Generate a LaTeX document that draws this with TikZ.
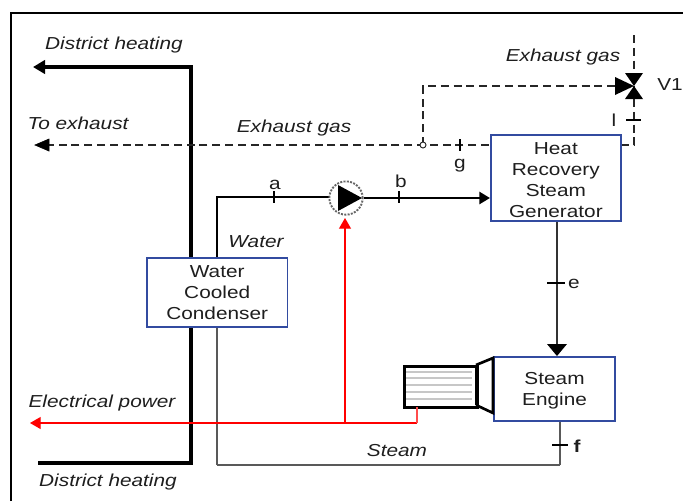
\documentclass[tikz,border=0pt]{standalone}
\usepackage{fontspec}
\setmainfont[FakeStretch=1.2]{Liberation Sans}
\usetikzlibrary{arrows.meta}
\definecolor{boxblue}{RGB}{50,75,160}
\definecolor{txt}{RGB}{30,30,30}
\tikzset{
 x=0.75pt,y=-0.75pt,
 lab/.style={font=\fontsize{13pt}{15pt}\selectfont,text=txt,inner sep=0pt},
 ilab/.style={lab,font=\itshape\fontsize{13pt}{15pt}\selectfont},
 unitbox/.style={draw=boxblue,line width=1.3pt,fill=white,align=center,inner sep=0pt,font=\fontsize{13pt}{15.8pt}\selectfont,text=txt},
 heat/.style={line width=2.6pt,black},
 water/.style={line width=2pt,black},
 steam/.style={line width=1.5pt,black!65},
 gas/.style={line width=1.4pt,black!85,dash pattern=on 6pt off 3.6pt},
 elec/.style={line width=0.8pt,red},
 tickm/.style={line width=0.9pt,black},
}
\begin{document}
\begin{tikzpicture}
\useasboundingbox (0,0) rectangle (683,501);
\fill[white] (0,0) rectangle (683,501);
% frame
\coordinate (fbl) at (11,501);
\coordinate (ftl) at (11,13);
\coordinate (ftr) at (683,13);
\draw[line width=1.3pt,black] (fbl) -- (ftl) -- (ftr);
% coordinates
\coordinate (dhtop) at (33,67);
\coordinate (dhtc) at (191,67);
\coordinate (dhbc) at (191,463);
\coordinate (dhbot) at (38,463);
\coordinate (toex) at (35,145);
\coordinate (j) at (423,145);
\coordinate (jt) at (423,86);
\coordinate (vin) at (616,86);
\coordinate (vc) at (634,86);
\coordinate (vtop) at (634,35);
\coordinate (rcorn) at (634,145);
\coordinate (wc) at (217,197);
\coordinate (wb) at (217,465);
\coordinate (fc) at (560,465);
\coordinate (elecl) at (30,423);
\coordinate (elecj) at (345,423);
\coordinate (elect) at (345,218);
\coordinate (elecr) at (417,423);
% lines under boxes
\draw[heat,-{Triangle[length=9pt,width=10pt]}] (dhbot) -- (dhbc) -- (dhtc) -- (dhtop);
\draw[gas] (489,145) -- (48,145);
\draw[black,line width=0.5pt,fill=black] (toex) -- (49,139) -- (49,151) -- cycle;
\draw[gas] (j) -- (jt) -- (vin);
\draw[gas] (vtop) -- (vc) -- (rcorn) -- (620,145);
\draw[steam] (wb) -- (wc);
\draw[water] (217,258) -- (wc) -- (330,197);
\draw[steam] (fc) -- (wb);
\draw[elec,-{Triangle[length=8pt,width=9pt]}] (elecr) -- (elecl);
\draw[elec,-{Triangle[length=8pt,width=9pt]}] (elecj) -- (elect);
% junction
\node[circle,draw=black!85,line width=0.7pt,fill=white,minimum size=4.5pt,inner sep=0pt] (jn) at (j) {};
% nodes
\node[unitbox,anchor=north west,minimum width=105.5pt,minimum height=52pt] (cond) at (146,257) {Water\\Cooled\\Condenser};
\node[unitbox,anchor=north west,minimum width=97.5pt,minimum height=64.5pt] (hrsg) at (490,134) {\rule{0pt}{12pt}Heat\\Recovery\\Steam\\Generator};
\node[unitbox,anchor=north west,minimum width=91pt,minimum height=48pt] (eng) at (493,356) {\rule{0pt}{12pt}Steam\\Engine};
% pump
\node[circle,draw=black!60,dash pattern=on 1.5pt off 1pt,line width=1.4pt,minimum size=25pt,inner sep=0pt,fill=white] (pump) at (346,198) {};
\fill[black] (338,185) -- (362,198) -- (338,211) -- cycle;
\draw[water,-{Triangle[length=8pt,width=9pt]}] (pump.east) -- (hrsg.west |- pump.east);
% connectors
\draw[line width=1.6pt,black!80] (hrsg.south -| 557,0) -- (557,345);
\fill[black] (547,344) -- (567,344) -- (557,356) -- cycle;
\draw[steam] (eng.south -| 560,0) -- (fc);
% generator
\node[draw=black,line width=2pt,fill=white,minimum width=55pt,minimum height=31pt,inner sep=0pt,anchor=north west] (gen) at (403,365) {};
\foreach \yy in {372,378,385,392,399}{\draw[black!22,line width=1.3pt] (406,\yy) -- (472,\yy);}
\draw[line width=2pt,black] (476,365) -- (493,358) -- (493,413) -- (476,405);
\draw[line width=2pt,black] (476,365) -- (476,405);
\draw[elec,line width=1.2pt,red!70] (417,407) -- (elecr);
% valve
\fill[black] (625,73) -- (643,73) -- (634,86) -- cycle;
\fill[black] (625,99) -- (643,99) -- (634,86) -- cycle;
\fill[black] (615,77) -- (634,86) -- (615,95) -- cycle;
% ticks
\draw[tickm] (274,191) -- (274,203);
\draw[tickm] (399,191) -- (399,203);
\draw[tickm] (460,139) -- (460,151);
\draw[tickm] (626,120) -- (641,120);
\draw[tickm] (547,283) -- (565,283);
\draw[tickm] (552,445) -- (568,445);
% labels
\node[ilab] (t1) at (114,45) {District heating};
\node[ilab] (t2) at (78,123) {To exhaust};
\node[ilab] (t3) at (294,128) {Exhaust gas};
\node[ilab] (t4) at (563,57) {Exhaust gas};
\node[ilab] (t5) at (256,242) {Water};
\node[ilab] (t6) at (102,403) {Electrical power};
\node[ilab] (t7) at (397,451) {Steam};
\node[ilab] (t8) at (108,482) {District heating};
\node[lab] (la) at (275,185) {a};
\node[lab] (lb) at (401,181) {b};
\node[lab] (lg) at (460,166) {g};
\node[lab] (ll) at (614,120) {l};
\node[lab] (le) at (574,284) {e};
\node[lab,font=\bfseries\fontsize{13pt}{15pt}\selectfont] (lf) at (577,446) {f};
\node[lab] (lv) at (670,85) {V1};
\end{tikzpicture}
\end{document}
